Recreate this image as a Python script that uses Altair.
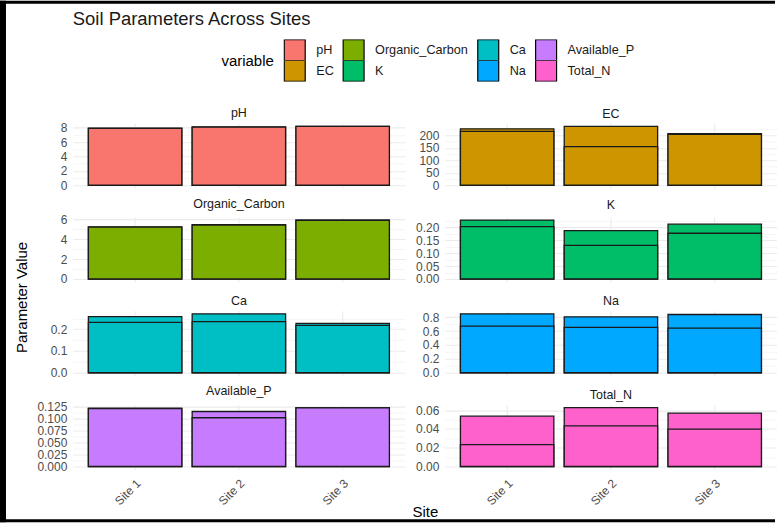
import json
import altair as alt
import pandas as pd

sites = ["Site 1", "Site 2", "Site 3"]
variables = ["pH", "EC", "Organic_Carbon", "K", "Ca", "Na", "Available_P", "Total_N"]
colors = ["#F8766D", "#CD9600", "#7CAE00", "#00BE67", "#00BFC4", "#00A9FF", "#C77CFF", "#FF61CC"]
main_title = "Soil Parameters Across Sites"

# two readings per site (higher, lower)
ph_high = [7.95, 8.10, 8.20]
ph_low = [7.92, 8.08, 8.18]
ec_high = [227, 237, 207]
ec_low = [217, 155, 205]
oc_high = [5.22, 5.43, 5.90]
oc_low = [5.20, 5.40, 5.88]
k_high = [0.228, 0.187, 0.212]
k_low = [0.203, 0.130, 0.177]
ca_high = [0.258, 0.271, 0.227]
ca_low = [0.232, 0.235, 0.218]
na_high = [0.848, 0.805, 0.838]
na_low = [0.671, 0.652, 0.643]
p_high = [0.1216, 0.1148, 0.1230]
p_low = [0.1210, 0.1018, 0.1225]
n_high = [0.0536, 0.0628, 0.0568]
n_low = [0.0233, 0.0434, 0.0399]

# tick values and label formats per parameter
ph_ticks = [0, 2, 4, 6, 8]
ec_ticks = [0, 50, 100, 150, 200]
oc_ticks = [0, 2, 4, 6]
k_ticks = [0.0, 0.05, 0.10, 0.15, 0.20]
ca_ticks = [0.0, 0.1, 0.2]
na_ticks = [0.0, 0.2, 0.4, 0.6, 0.8]
p_ticks = [0.0, 0.025, 0.05, 0.075, 0.1, 0.125]
n_ticks = [0.0, 0.02, 0.04, 0.06]

readings = {
    "pH": (ph_high, ph_low, ph_ticks, ".0f"),
    "EC": (ec_high, ec_low, ec_ticks, ".0f"),
    "Organic_Carbon": (oc_high, oc_low, oc_ticks, ".0f"),
    "K": (k_high, k_low, k_ticks, ".2f"),
    "Ca": (ca_high, ca_low, ca_ticks, ".1f"),
    "Na": (na_high, na_low, na_ticks, ".1f"),
    "Available_P": (p_high, p_low, p_ticks, ".3f"),
    "Total_N": (n_high, n_low, n_ticks, ".2f"),
}

# legend laid out column-wise like ggplot (2 rows x 4 columns)
legend_order = [variables[i] for i in (0, 2, 4, 6, 1, 3, 5, 7)]
legend_colors = [colors[i] for i in (0, 2, 4, 6, 1, 3, 5, 7)]

FONT = "Liberation Sans"
W, H = 333, 65
GRID = "#EBEBEB"
TXT = "#4D4D4D"
ORIGIN_X, ORIGIN_Y = 73, 123  # where the first panel sits in the page

charts = []
for idx, var in enumerate(variables):
    high, low, ticks, fmt = readings[var]
    rows = []
    for s, h, l in zip(sites, high, low):
        rows.append({"Site": s, "Value": h, "variable": var})
        rows.append({"Site": s, "Value": l, "variable": var})
    df = pd.DataFrame(rows)
    vmax = max(high)
    lo, hi = -0.05 * vmax, 1.05 * vmax
    step = ticks[1] - ticks[0]
    minors = [(a + b) / 2 for a, b in zip(ticks[:-1], ticks[1:])]
    extra = ticks[-1] + step / 2
    if extra < hi:
        minors.append(extra)
    major_js = json.dumps(ticks)
    is_bottom = idx >= 6

    y_kwargs = dict(
        values=ticks + minors,
        format=fmt,
        labelExpr=f"indexof({major_js}, datum.value) >= 0 ? datum.label : ''",
        gridWidth={"condition": {"test": f"indexof({major_js}, datum.value) < 0", "value": 0.5}, "value": 1.1},
        gridColor=GRID,
        ticks=False,
        tickSize=0,
        domain=False,
        labelPadding=6,
        labelFontSize=12,
        labelColor=TXT,
        labelFont=FONT,
        labelOverlap=False,
        title=None,
    )
    if var == "Organic_Carbon":
        y_kwargs.update(
            title="Parameter Value",
            titleX=-51,
            titleY=80,
            titleAngle=270,
            titleAlign="center",
            titleBaseline="middle",
            titleFontSize=15,
            titleFontWeight="normal",
            titleFont=FONT,
            titleColor="#000000",
        )
    yaxis = alt.Axis(**y_kwargs)

    x_kwargs = dict(
        grid=True,
        gridColor=GRID,
        gridWidth=1.1,
        ticks=False,
        tickSize=0,
        domain=False,
        title=None,
    )
    if is_bottom:
        x_kwargs.update(
            labels=True,
            labelAngle=-45,
            labelFontSize=12,
            labelColor=TXT,
            labelFont=FONT,
            labelPadding=8,
        )
    else:
        x_kwargs.update(labels=False)
    if var == "Total_N":
        x_kwargs.update(
            title="Site",
            titleX=-20,
            titleY=42,
            titleAlign="center",
            titleBaseline="middle",
            titleFontSize=15,
            titleFontWeight="normal",
            titleFont=FONT,
            titleColor="#000000",
        )
    xaxis = alt.Axis(**x_kwargs)

    bars = (
        alt.Chart(df)
        .mark_bar(stroke="#1A1A1A", strokeWidth=1.3)
        .encode(
            x=alt.X("Site:N", sort=sites, scale=alt.Scale(paddingInner=0.1, paddingOuter=0.15), axis=xaxis),
            y=alt.Y("Value:Q", stack=None, scale=alt.Scale(domain=[lo, hi], nice=False, zero=False), axis=yaxis),
            color=alt.Color(
                "variable:N",
                scale=alt.Scale(domain=legend_order, range=legend_colors),
                legend=alt.Legend(
                    title="variable",
                    orient="none",
                    legendX=149,
                    legendY=-84,
                    direction="horizontal",
                    columns=4,
                    titleOrient="left",
                    titleFontSize=15,
                    titleFontWeight="normal",
                    titleFont=FONT,
                    titleColor="#000000",
                    titlePadding=9,
                    titleBaseline="middle",
                    labelFontSize=12.7,
                    labelFont=FONT,
                    labelColor="#1A1A1A",
                    labelOffset=10,
                    symbolType="square",
                    symbolSize=441,
                    symbolStrokeColor="black",
                    symbolStrokeWidth=1.2,
                    symbolOpacity=1,
                    rowPadding=0,
                    columnPadding=8,
                    clipHeight=21,
                ),
            ),
        )
    )

    if idx == 0:
        one = alt.Data(values=[{}])
        # strip label for this panel as a text mark (the layer also carries the page frame)
        strip_text = alt.Chart(one).mark_text(
            text=var, align="center", baseline="middle", fontSize=12.5, font=FONT, color="#1A1A1A"
        ).encode(x=alt.value(W / 2), y=alt.value(-10))
        # page frame (decorative border) and main title, placed relative to this panel
        frame_left = alt.Chart(one).mark_rect(color="black").encode(
            x=alt.value(-ORIGIN_X), x2=alt.value(-ORIGIN_X + 6),
            y=alt.value(-ORIGIN_Y), y2=alt.value(523 - ORIGIN_Y),
        )
        frame_top = alt.Chart(one).mark_rect(color="black").encode(
            x=alt.value(-ORIGIN_X), x2=alt.value(777 - ORIGIN_X),
            y=alt.value(-ORIGIN_Y), y2=alt.value(-ORIGIN_Y + 3),
        )
        frame_bottom = alt.Chart(one).mark_rect(color="black").encode(
            x=alt.value(-ORIGIN_X), x2=alt.value(777 - ORIGIN_X),
            y=alt.value(520 - ORIGIN_Y), y2=alt.value(523 - ORIGIN_Y),
        )
        title_text = alt.Chart(one).mark_text(
            text=main_title, align="left", baseline="middle", fontSize=18.5, font=FONT, color="#1A1A1A"
        ).encode(x=alt.value(0), y=alt.value(18 - ORIGIN_Y))
        c = alt.layer(bars, strip_text, frame_left, frame_top, frame_bottom, title_text).properties(
            width=W, height=H
        )
    else:
        strip = alt.TitleParams(var, fontSize=12.5, fontWeight="normal", color="#1A1A1A", font=FONT, offset=3)
        c = bars.properties(width=W, height=H, title=strip)
    charts.append(c)

chart = (
    alt.concat(*charts, columns=2, spacing={"row": 29, "column": 40}, bounds="flush")
    .properties(
        padding={"left": 0, "top": 0, "right": 0, "bottom": 0},
        background="white",
    )
    .configure_view(stroke=None)
)

chart.save("out.html", embed_options={"renderer": "svg", "actions": False})
